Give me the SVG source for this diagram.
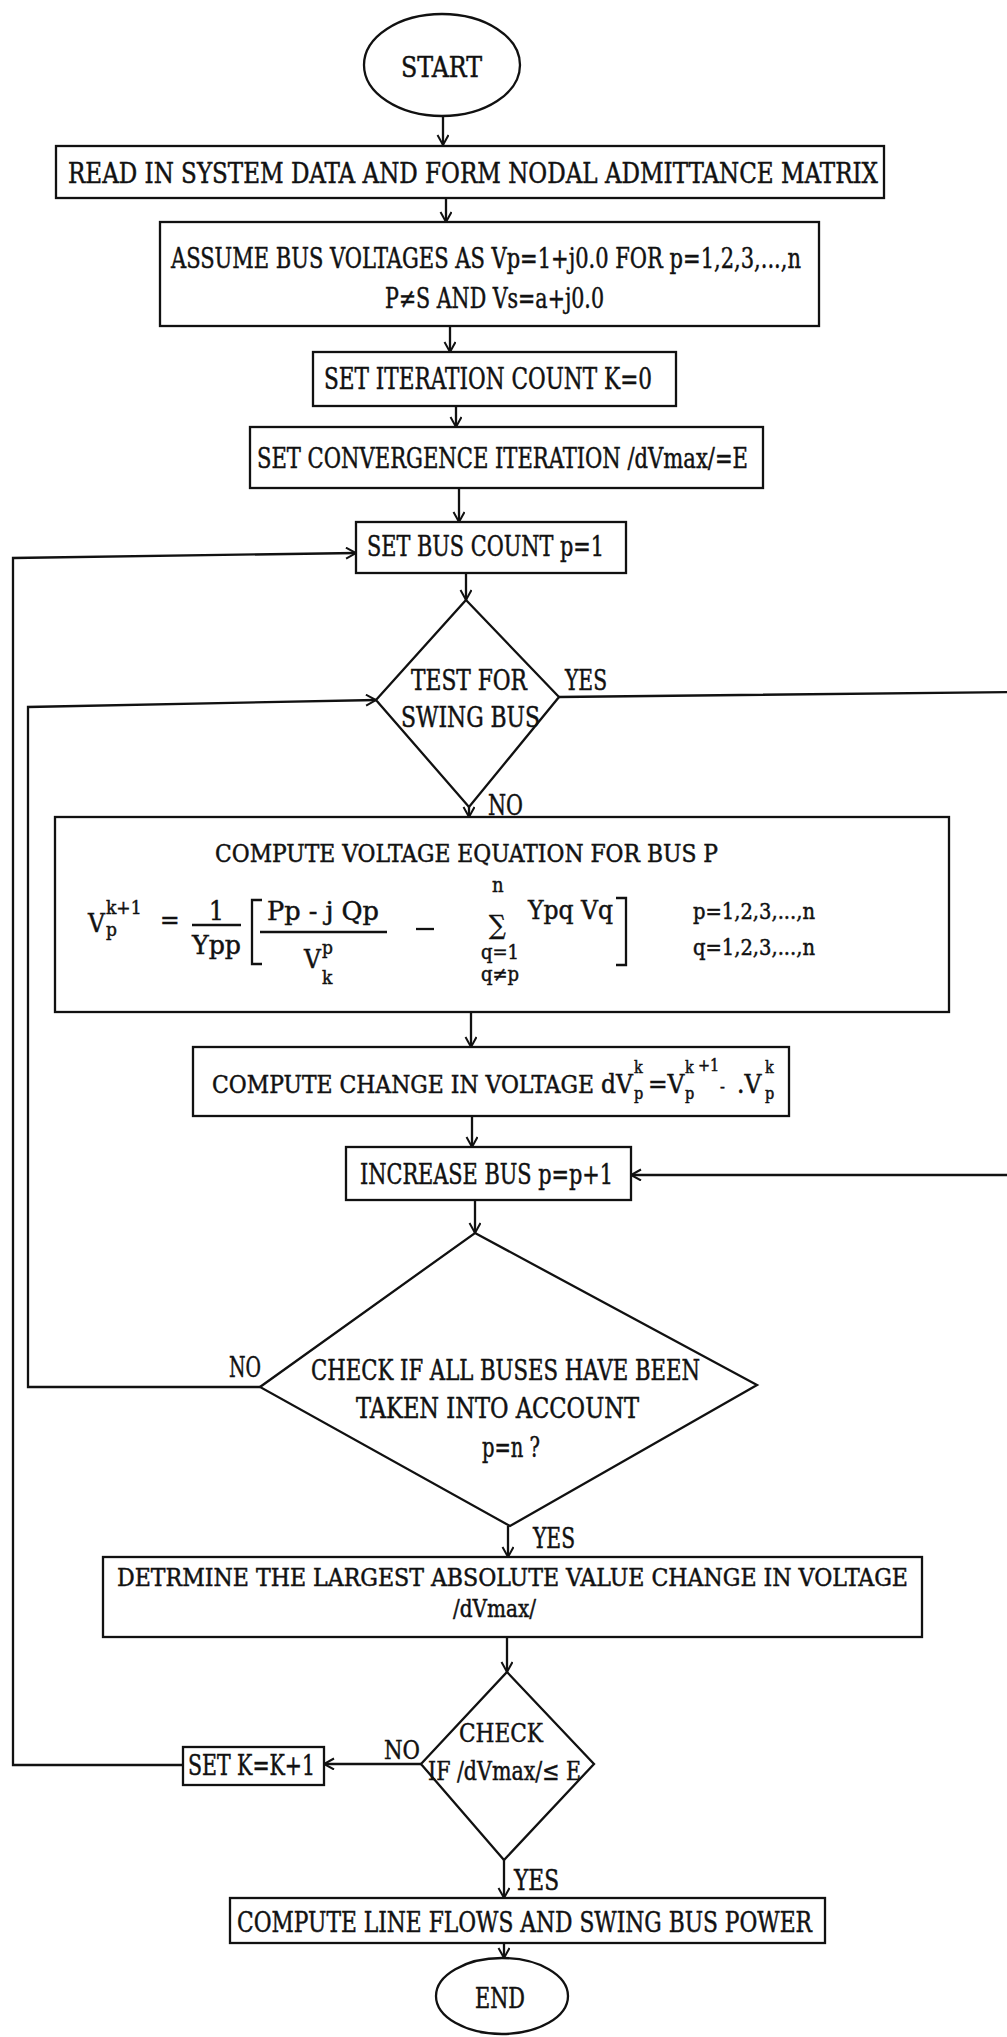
<svg xmlns="http://www.w3.org/2000/svg" width="1007" height="2037" viewBox="0 0 1007 2037">
<style>
.n{fill:#fff;stroke:#111;stroke-width:2.3}
.c{fill:none;stroke:#111;stroke-width:2.3}
text{font-family:"DejaVu Serif Condensed","DejaVu Serif","Liberation Serif",serif;font-stretch:condensed;fill:#111;stroke:#111;stroke-width:0.45}
.s29{font-size:29px}.s28{font-size:28px}.s27{font-size:27px}.s26{font-size:26px}.s25{font-size:25px}.s24{font-size:24px}.s22{font-size:22px}.s20{font-size:20px}
</style>
<defs>
<marker id="ah" markerUnits="userSpaceOnUse" markerWidth="14" markerHeight="14" refX="11" refY="6" orient="auto">
<path d="M1,0.5 L11,6 L1,11.5" fill="none" stroke="#111" stroke-width="2"/>
</marker>
</defs>
<rect width="1007" height="2037" fill="#fff"/>

<g id="connectors">
<line class="c" x1="443" y1="117" x2="443" y2="145" marker-end="url(#ah)"/>
<line class="c" x1="446" y1="198" x2="446" y2="222" marker-end="url(#ah)"/>
<line class="c" x1="450" y1="326" x2="450" y2="352" marker-end="url(#ah)"/>
<line class="c" x1="456" y1="406" x2="456" y2="427" marker-end="url(#ah)"/>
<line class="c" x1="459" y1="488" x2="459" y2="522" marker-end="url(#ah)"/>
<line class="c" x1="466" y1="573" x2="466" y2="600" marker-end="url(#ah)"/>
<line class="c" x1="469" y1="807" x2="469" y2="817" marker-end="url(#ah)"/>
<line class="c" x1="471" y1="1012" x2="471" y2="1047" marker-end="url(#ah)"/>
<line class="c" x1="472" y1="1116" x2="472" y2="1147" marker-end="url(#ah)"/>
<line class="c" x1="475" y1="1200" x2="475" y2="1233" marker-end="url(#ah)"/>
<line class="c" x1="508" y1="1526" x2="508" y2="1557" marker-end="url(#ah)"/>
<line class="c" x1="507" y1="1637" x2="507" y2="1672" marker-end="url(#ah)"/>
<line class="c" x1="421" y1="1764" x2="324" y2="1764" marker-end="url(#ah)"/>
<line class="c" x1="504" y1="1860" x2="504" y2="1898" marker-end="url(#ah)"/>
<line class="c" x1="504" y1="1943" x2="504" y2="1958" marker-end="url(#ah)"/>
<path class="c" d="M183,1765 L13,1765 L13,558 L356,553" marker-end="url(#ah)"/>
<path class="c" d="M260,1387 L28,1387 L28,707 L376,700" marker-end="url(#ah)"/>
<path class="c" d="M559,697 L1012,692 L1012,1175 L631,1175" marker-end="url(#ah)"/>
</g>

<g id="start">
<ellipse class="n" cx="442" cy="65" rx="78" ry="51"/>
<text class="s28" x="401" y="77" textLength="81" lengthAdjust="spacingAndGlyphs">START</text>
</g>

<g id="read">
<rect class="n" x="56" y="146" width="828" height="52"/>
<text class="s28" x="68" y="183" textLength="810" lengthAdjust="spacingAndGlyphs">READ IN SYSTEM DATA AND FORM NODAL ADMITTANCE MATRIX</text>
</g>

<g id="assume">
<rect class="n" x="160" y="222" width="659" height="104"/>
<text class="s28" x="171" y="268" textLength="630" lengthAdjust="spacingAndGlyphs">ASSUME BUS VOLTAGES AS Vp=1+j0.0 FOR p=1,2,3,...,n</text>
<text class="s28" x="385" y="308" textLength="219" lengthAdjust="spacingAndGlyphs">P≠S AND Vs=a+j0.0</text>
</g>

<g id="set-iter">
<rect class="n" x="313" y="352" width="363" height="54"/>
<text class="s29" x="324" y="389" textLength="328" lengthAdjust="spacingAndGlyphs">SET ITERATION COUNT K=0</text>
</g>

<g id="set-conv">
<rect class="n" x="250" y="427" width="513" height="61"/>
<text class="s28" x="257" y="468" textLength="491" lengthAdjust="spacingAndGlyphs">SET CONVERGENCE ITERATION /dVmax/=E</text>
</g>

<g id="set-bus">
<rect class="n" x="356" y="522" width="270" height="51"/>
<text class="s28" x="367" y="556" textLength="237" lengthAdjust="spacingAndGlyphs">SET BUS COUNT p=1</text>
</g>

<g id="test-swing">
<polygon class="n" points="466,600 559,697 469,807 376,700"/>
<text class="s27" x="411" y="690" textLength="116" lengthAdjust="spacingAndGlyphs">TEST FOR</text>
<text class="s27" x="401" y="727" textLength="139" lengthAdjust="spacingAndGlyphs">SWING BUS</text>
<text class="s27" x="565" y="690" textLength="42" lengthAdjust="spacingAndGlyphs">YES</text>
<text class="s27" x="488" y="815" textLength="35" lengthAdjust="spacingAndGlyphs">NO</text>
</g>

<g id="compute-voltage">
<rect class="n" x="55" y="817" width="894" height="195"/>
<text class="s24" x="215" y="862" textLength="503" lengthAdjust="spacingAndGlyphs">COMPUTE VOLTAGE EQUATION FOR BUS P</text>
<text class="s26"><tspan x="88" y="932">V</tspan><tspan x="106" y="914" font-size="19px">k+1</tspan><tspan x="106" y="936" font-size="19px">p</tspan></text>
<text class="s26" x="160" y="929">=</text>
<text class="s26" x="209" y="920">1</text>
<line class="c" x1="192" y1="925" x2="241" y2="925" stroke-width="1.8"/>
<text class="s26" x="192" y="954" textLength="49" lengthAdjust="spacingAndGlyphs">Ypp</text>
<path class="c" d="M262,900 L252,900 L252,964 L262,964" stroke-width="2"/>
<text class="s26" x="267" y="920" textLength="112" lengthAdjust="spacingAndGlyphs">Pp - j Qp</text>
<line class="c" x1="260" y1="932" x2="387" y2="932" stroke-width="1.8"/>
<text class="s26"><tspan x="304" y="968">V</tspan><tspan x="322" y="954" font-size="19px">p</tspan><tspan x="322" y="984" font-size="19px">k</tspan></text>
<line class="c" x1="416" y1="929" x2="434" y2="929" stroke-width="1.8"/>
<text class="s20"><tspan x="492" y="892">n</tspan><tspan x="489" y="934" font-size="26px">∑</tspan><tspan x="481" y="959">q=1</tspan><tspan x="481" y="981">q≠p</tspan></text>
<text class="s26" x="528" y="919" textLength="85" lengthAdjust="spacingAndGlyphs">Ypq Vq</text>
<path class="c" d="M616,898 L626,898 L626,965 L616,965" stroke-width="2"/>
<text class="s22" x="693" y="919" textLength="122" lengthAdjust="spacingAndGlyphs">p=1,2,3,...,n</text>
<text class="s22" x="693" y="955" textLength="122" lengthAdjust="spacingAndGlyphs">q=1,2,3,...,n</text>
</g>

<g id="compute-change">
<rect class="n" x="193" y="1047" width="596" height="69"/>
<text class="s25" x="212" y="1093" textLength="382" lengthAdjust="spacingAndGlyphs">COMPUTE CHANGE IN VOLTAGE</text>
<text class="s26"><tspan x="601" y="1093">dV</tspan><tspan x="634" y="1073" font-size="16px">k</tspan><tspan x="634" y="1099" font-size="16px">p</tspan><tspan x="648" y="1093">=V</tspan><tspan x="685" y="1073" font-size="16px">k</tspan><tspan x="685" y="1099" font-size="16px">p</tspan><tspan x="698" y="1071" font-size="16px">+1</tspan><tspan x="720" y="1092" font-size="16px">-</tspan><tspan x="737" y="1093">.V</tspan><tspan x="765" y="1073" font-size="16px">k</tspan><tspan x="765" y="1099" font-size="16px">p</tspan></text>
</g>

<g id="increase-bus">
<rect class="n" x="346" y="1147" width="285" height="53"/>
<text class="s28" x="360" y="1184" textLength="253" lengthAdjust="spacingAndGlyphs">INCREASE BUS  p=p+1</text>
</g>

<g id="check-all">
<polygon class="n" points="475,1233 757,1385 510,1526 260,1387"/>
<text class="s27" x="311" y="1380" textLength="389" lengthAdjust="spacingAndGlyphs">CHECK IF ALL BUSES HAVE BEEN</text>
<text class="s27" x="356" y="1418" textLength="283" lengthAdjust="spacingAndGlyphs">TAKEN INTO ACCOUNT</text>
<text class="s27" x="482" y="1457" textLength="58" lengthAdjust="spacingAndGlyphs">p=n ?</text>
<text class="s27" x="229" y="1377" textLength="32" lengthAdjust="spacingAndGlyphs">NO</text>
<text class="s27" x="533" y="1548" textLength="42" lengthAdjust="spacingAndGlyphs">YES</text>
</g>

<g id="determine">
<rect class="n" x="103" y="1557" width="819" height="80"/>
<text class="s24" x="117" y="1586" textLength="791" lengthAdjust="spacingAndGlyphs">DETRMINE THE LARGEST ABSOLUTE VALUE CHANGE IN VOLTAGE</text>
<text class="s24" x="453" y="1617" textLength="83" lengthAdjust="spacingAndGlyphs">/dVmax/</text>
</g>

<g id="check-conv">
<polygon class="n" points="507,1672 594,1764 504,1860 421,1764"/>
<text class="s26" x="459" y="1742" textLength="84" lengthAdjust="spacingAndGlyphs">CHECK</text>
<text class="s26" x="428" y="1780" textLength="153" lengthAdjust="spacingAndGlyphs">IF /dVmax/≤ E</text>
<text class="s26" x="384" y="1759" textLength="36" lengthAdjust="spacingAndGlyphs">NO</text>
<text class="s27" x="514" y="1890" textLength="45" lengthAdjust="spacingAndGlyphs">YES</text>
</g>

<g id="set-k">
<rect class="n" x="183" y="1747" width="141" height="38"/>
<text class="s27" x="188" y="1775" textLength="127" lengthAdjust="spacingAndGlyphs">SET K=K+1</text>
</g>

<g id="line-flows">
<rect class="n" x="230" y="1898" width="595" height="45"/>
<text class="s28" x="237" y="1932" textLength="575" lengthAdjust="spacingAndGlyphs">COMPUTE LINE FLOWS AND SWING BUS POWER</text>
</g>

<g id="end">
<ellipse class="n" cx="502" cy="1996" rx="66" ry="38"/>
<text class="s27" x="475" y="2008" textLength="50" lengthAdjust="spacingAndGlyphs">END</text>
</g>
</svg>
